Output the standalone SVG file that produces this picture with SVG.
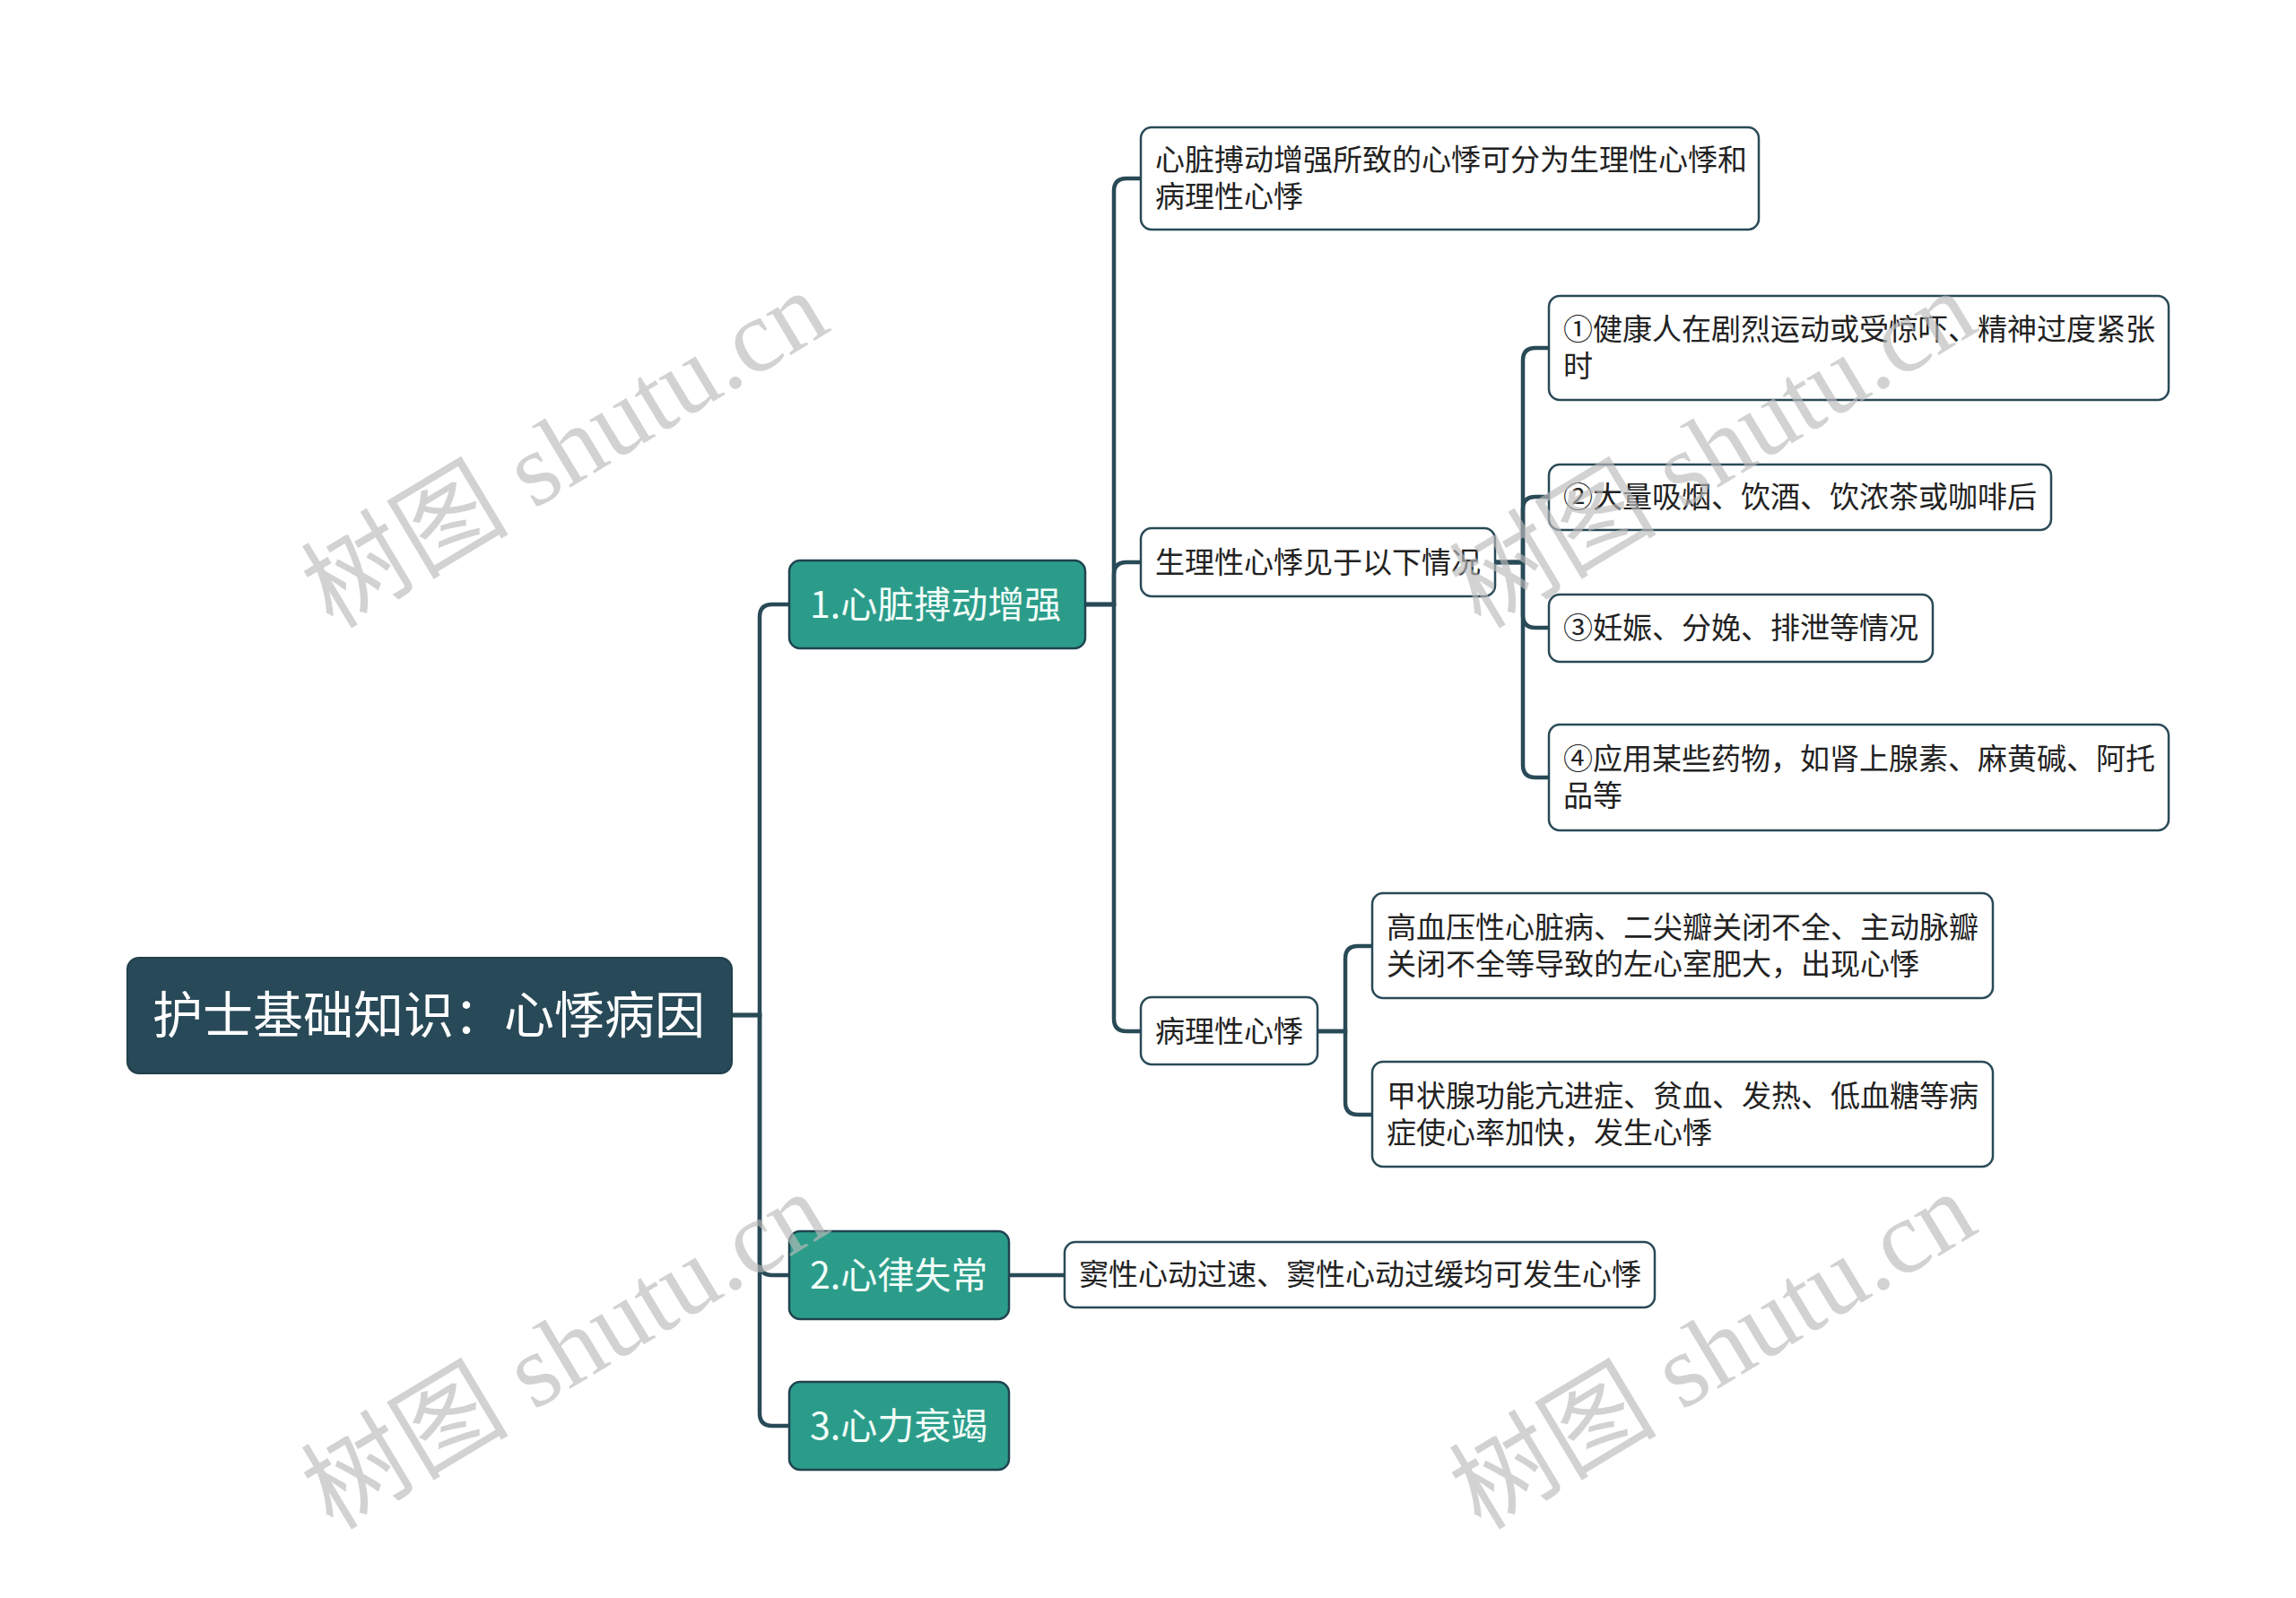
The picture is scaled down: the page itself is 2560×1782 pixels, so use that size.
<svg xmlns="http://www.w3.org/2000/svg" width="2560" height="1782" viewBox="0 0 2560 1782">
<style>
.conn{fill:none;stroke:#294a57;stroke-width:4.5;stroke-linecap:round}
.root rect{fill:#284957;stroke:#223f4b;stroke-width:2}
.root text{fill:#ffffff;font-size:56px}
.l1 rect{fill:#2c9c8a;stroke:#1f4450;stroke-width:2.5}
.l1 text{fill:#f2fff9;font-size:41px}
.l2 rect{fill:#ffffff;stroke:#294a57;stroke-width:2.5}
.l2 text{fill:#222222;font-size:33px}
text{font-family:"Noto Sans CJK SC","Noto Sans",sans-serif}
.wm text{font-family:"Liberation Serif","Noto Sans CJK SC",serif;font-size:116px;fill:#bbbbbb;opacity:0.65;text-anchor:middle}
</style>
<rect width="2560" height="1782" fill="#ffffff"/>
<g id="connectors">
<path class="conn" d="M816,1132 H847 V688 Q847,674 861,674 H880"/>
<path class="conn" d="M816,1132 H847 V1408 Q847,1422 861,1422 H880"/>
<path class="conn" d="M816,1132 H847 V1576 Q847,1590 861,1590 H880"/>
<path class="conn" d="M1210,674 H1242 V213 Q1242,199 1256,199 H1272"/>
<path class="conn" d="M1210,674 H1242 V641 Q1242,627 1256,627 H1272"/>
<path class="conn" d="M1210,674 H1242 V1136 Q1242,1150 1256,1150 H1272"/>
<path class="conn" d="M1667,627 H1698 V402 Q1698,388 1712,388 H1727"/>
<path class="conn" d="M1667,627 H1698 V568 Q1698,554 1712,554 H1727"/>
<path class="conn" d="M1667,627 H1698 V686 Q1698,700 1712,700 H1727"/>
<path class="conn" d="M1667,627 H1698 V853 Q1698,867 1712,867 H1727"/>
<path class="conn" d="M1469,1150 H1500 V1069 Q1500,1055 1514,1055 H1530"/>
<path class="conn" d="M1469,1150 H1500 V1229 Q1500,1243 1514,1243 H1530"/>
<path class="conn" d="M1125,1422 H1187"/>
</g>
<g id="root" class="root">
<rect x="142" y="1068" width="674" height="129" rx="13"/>
<text x="170" y="1152">护士基础知识：心悸病因</text>
</g>
<g id="n1" class="l1">
<rect x="880" y="625" width="330" height="98" rx="12"/>
<text x="903" y="689">1.心脏搏动增强</text>
</g>
<g id="n2" class="l1">
<rect x="880" y="1373" width="245" height="98" rx="12"/>
<text x="903" y="1437">2.心律失常</text>
</g>
<g id="n3" class="l1">
<rect x="880" y="1541" width="245" height="98" rx="12"/>
<text x="903" y="1605">3.心力衰竭</text>
</g>
<g id="nA" class="l2">
<rect x="1272" y="142" width="689" height="114" rx="12"/>
<text x="1288" y="190">心脏搏动增强所致的心悸可分为生理性心悸和</text>
<text x="1288" y="231">病理性心悸</text>
</g>
<g id="nB" class="l2">
<rect x="1272" y="589" width="395" height="76" rx="12"/>
<text x="1288" y="639">生理性心悸见于以下情况</text>
</g>
<g id="nC" class="l2">
<rect x="1272" y="1112" width="197" height="75" rx="12"/>
<text x="1288" y="1162">病理性心悸</text>
</g>
<g id="nB1" class="l2">
<rect x="1727" y="330" width="691" height="116" rx="12"/>
<text x="1743" y="379">①健康人在剧烈运动或受惊吓、精神过度紧张</text>
<text x="1743" y="420">时</text>
</g>
<g id="nB2" class="l2">
<rect x="1727" y="518" width="560" height="73" rx="12"/>
<text x="1743" y="566">②大量吸烟、饮酒、饮浓茶或咖啡后</text>
</g>
<g id="nB3" class="l2">
<rect x="1727" y="663" width="428" height="75" rx="12"/>
<text x="1743" y="712">③妊娠、分娩、排泄等情况</text>
</g>
<g id="nB4" class="l2">
<rect x="1727" y="808" width="691" height="118" rx="12"/>
<text x="1743" y="858">④应用某些药物，如肾上腺素、麻黄碱、阿托</text>
<text x="1743" y="899">品等</text>
</g>
<g id="nC1" class="l2">
<rect x="1530" y="996" width="692" height="117" rx="12"/>
<text x="1546" y="1046">高血压性心脏病、二尖瓣关闭不全、主动脉瓣</text>
<text x="1546" y="1087">关闭不全等导致的左心室肥大，出现心悸</text>
</g>
<g id="nC2" class="l2">
<rect x="1530" y="1184" width="692" height="117" rx="12"/>
<text x="1546" y="1234">甲状腺功能亢进症、贫血、发热、低血糖等病</text>
<text x="1546" y="1275">症使心率加快，发生心悸</text>
</g>
<g id="nD" class="l2">
<rect x="1187" y="1385" width="658" height="73" rx="12"/>
<text x="1203" y="1433">窦性心动过速、窦性心动过缓均可发生心悸</text>
</g>
<g id="watermarks" class="wm">
<text transform="translate(650,535) rotate(-31)">树图 shutu.cn</text>
<text transform="translate(1930,535) rotate(-31)">树图 shutu.cn</text>
<text transform="translate(650,1540) rotate(-31)">树图 shutu.cn</text>
<text transform="translate(1930,1540) rotate(-31)">树图 shutu.cn</text>
</g>
</svg>
